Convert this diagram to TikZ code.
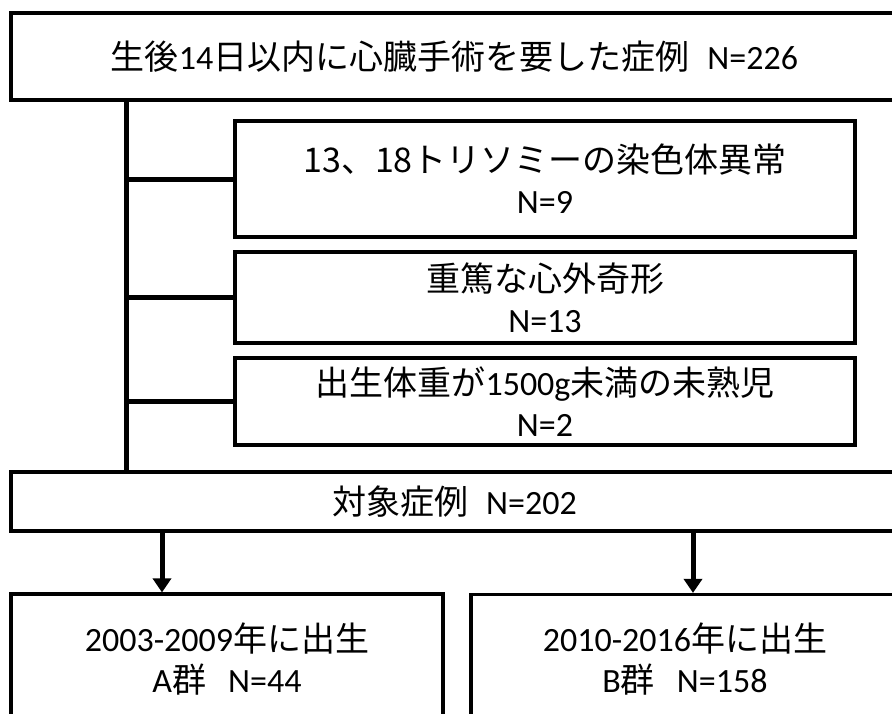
\documentclass[tikz,border=0pt]{standalone}
\usepackage{fontspec}
\setmainfont{Carlito}
\newfontfamily\jp{Noto Sans CJK JP}
\usetikzlibrary{arrows.meta}
\begin{document}
\begin{tikzpicture}[x=1pt,y=-1pt,
  box/.style={draw, line width=3.2pt, inner sep=0pt, align=center,
    font=\fontsize{34}{41}\selectfont},
  conn/.style={line width=5pt},
  arr/.style={line width=5pt, -{Triangle[length=14pt,width=18pt]}}]
\useasboundingbox (0,0) rectangle (892,713);
\clip (0,0) rectangle (892,713);
\fill[white] (0,0) rectangle (892,713);
\node[box, minimum width=887pt, minimum height=87pt] (top) at (454.5,56.5)
  {{\jp 生後}14{\jp 日以内に心臓手術を要した症例}\hspace{18pt}N=226};
\node[box, minimum width=620pt, minimum height=116pt] (b1) at (545,179)
  {{\jp 13、18トリソミーの染色体異常}\\N=9};
\node[box, minimum width=620pt, minimum height=91pt] (b2) at (545,297.5)
  {{\jp 重篤な心外奇形}\\N=13};
\node[box, minimum width=620pt, minimum height=87pt] (b3) at (545,401.5)
  {{\jp 出生体重が}1500g{\jp 未満の未熟児}\\N=2};
\node[box, minimum width=887pt, minimum height=59pt] (tgt) at (454.5,501.5)
  {{\jp 対象症例}\hspace{18pt}N=202};
\node[box, minimum width=432pt, minimum height=130pt] (ga) at (227,659)
  {2003-2009{\jp 年に出生}\\A{\jp 群}\hspace{22pt}N=44};
\node[box, minimum width=428pt, minimum height=130pt] (gb) at (685,659.5)
  {2010-2016{\jp 年に出生}\\B{\jp 群}\hspace{22pt}N=158};
\coordinate (v) at (126,0);
\coordinate (a1) at (162,0);
\coordinate (a2) at (693,0);
\draw[conn] (top.south -| v) -- (tgt.north -| v);
\draw[conn] (b1.west -| v) -- (b1.west);
\draw[conn] (b2.west -| v) -- (b2.west);
\draw[conn] (b3.west -| v) -- (b3.west);
\draw[arr] (tgt.south -| a1) -- (ga.north -| a1);
\draw[arr] (tgt.south -| a2) -- (gb.north -| a2);
\end{tikzpicture}
\end{document}
